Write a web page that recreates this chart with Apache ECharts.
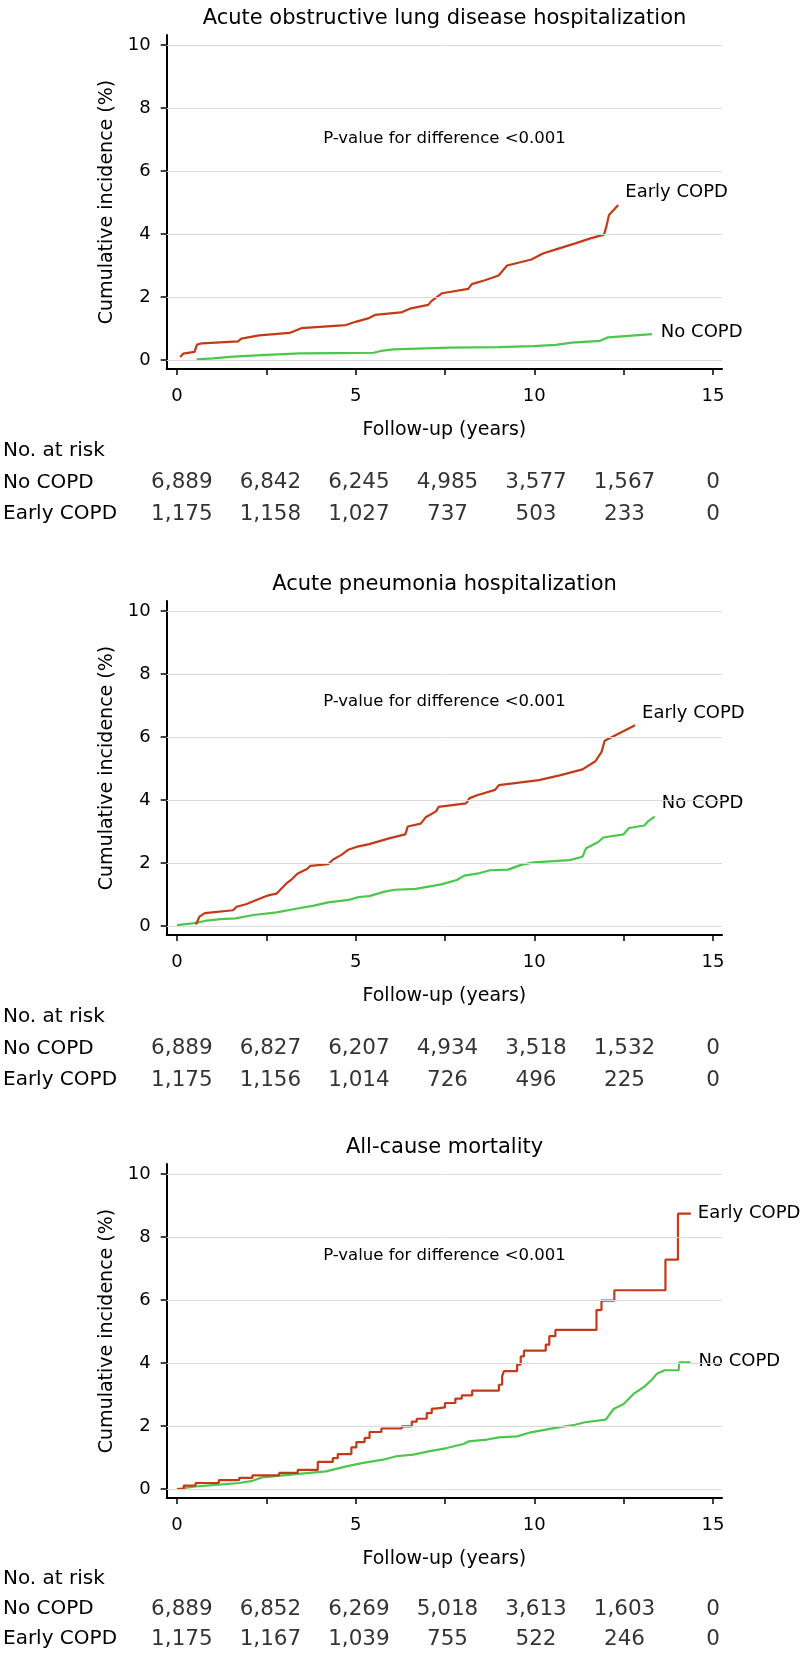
<!DOCTYPE html>
<html>
<head>
<meta charset="utf-8">
<script src="https://cdn.jsdelivr.net/npm/echarts@6/dist/echarts.min.js"></script>
<style>
html,body{margin:0;padding:0;background:#fff;}
#chart{width:805px;height:1654px;}
</style>
</head>
<body>
<div id="chart"></div>
<script>
// ---------- DATA ----------
const panelTitles = ['Acute obstructive lung disease hospitalization', 'Acute pneumonia hospitalization', 'All-cause mortality'];
const pValueText = 'P-value for difference <0.001';
const groupNames = ['No COPD', 'Early COPD'];
const xLabelValues = [0, 5, 10, 15];
const xTickValues = [0, 2.5, 5, 7.5, 10, 12.5, 15];
const yTickValues = [0, 2, 4, 6, 8, 10];
const riskTimes = [0, 2.5, 5, 7.5, 10, 12.5, 15];

// Panel 1: acute obstructive lung disease hospitalization
const p1Early = [[0.09,0.09],[0.17,0.2],[0.49,0.26],[0.56,0.49],[0.7,0.53],[1.71,0.59],[1.8,0.68],[2.3,0.78],[3.15,0.86],[3.48,1.01],[4.73,1.11],[5.02,1.22],[5.35,1.32],[5.54,1.43],[6.27,1.51],[6.55,1.64],[7.03,1.75],[7.12,1.87],[7.42,2.12],[8.15,2.26],[8.25,2.41],[8.62,2.53],[9.0,2.68],[9.24,3.0],[9.92,3.19],[10.24,3.38],[10.63,3.52],[11.17,3.71],[11.57,3.86],[11.95,3.98],[12.02,4.25],[12.09,4.6],[12.35,4.92]];
const p1NoCopd = [[0.55,0.02],[1.0,0.05],[1.58,0.11],[2.51,0.16],[3.44,0.21],[4.5,0.22],[5.5,0.23],[5.77,0.3],[6.05,0.34],[7.64,0.39],[9.0,0.41],[9.97,0.44],[10.6,0.48],[11.05,0.55],[11.84,0.61],[12.07,0.72],[13.29,0.82]];
const p1RiskNo = [6889, 6842, 6245, 4985, 3577, 1567, 0];
const p1RiskEarly = [1175, 1158, 1027, 737, 503, 233, 0];

// Panel 2: acute pneumonia hospitalization
const p2Early = [[0.53,0.05],[0.63,0.3],[0.78,0.41],[1.57,0.5],[1.67,0.61],[1.93,0.69],[2.43,0.92],[2.58,0.98],[2.79,1.03],[3.08,1.37],[3.22,1.49],[3.37,1.66],[3.65,1.82],[3.73,1.91],[4.23,1.96],[4.37,2.11],[4.59,2.25],[4.81,2.43],[5.02,2.51],[5.38,2.6],[5.96,2.79],[6.39,2.91],[6.46,3.16],[6.82,3.25],[6.96,3.45],[7.25,3.64],[7.32,3.78],[8.09,3.89],[8.19,4.06],[8.4,4.15],[8.9,4.32],[9.01,4.47],[10.13,4.63],[10.71,4.78],[11.35,4.97],[11.71,5.23],[11.88,5.52],[11.97,5.88],[12.82,6.37]];
const p2NoCopd = [[0,0.03],[0.49,0.09],[0.78,0.16],[1.21,0.22],[1.64,0.24],[2.14,0.35],[2.79,0.43],[3.29,0.54],[3.8,0.64],[4.23,0.75],[4.81,0.83],[5.09,0.92],[5.38,0.95],[5.81,1.09],[6.1,1.15],[6.68,1.18],[7.4,1.32],[7.83,1.46],[8.04,1.6],[8.4,1.66],[8.76,1.77],[9.27,1.79],[9.63,1.94],[9.99,2.02],[10.99,2.09],[11.35,2.2],[11.45,2.47],[11.78,2.66],[11.93,2.81],[12.5,2.91],[12.65,3.11],[13.08,3.19],[13.19,3.33],[13.37,3.47]];
const p2RiskNo = [6889, 6827, 6207, 4934, 3518, 1532, 0];
const p2RiskEarly = [1175, 1156, 1014, 726, 496, 225, 0];

// Panel 3: all-cause mortality
const p3Early = [[0,0],[0.19,0.11],[0.52,0.19],[1.17,0.28],[1.74,0.35],[2.11,0.43],[2.86,0.51],[3.38,0.61],[3.94,0.86],[4.36,0.98],[4.5,1.11],[4.88,1.32],[5.02,1.49],[5.25,1.62],[5.39,1.81],[5.72,1.92],[6.29,1.99],[6.57,2.14],[6.71,2.23],[6.99,2.41],[7.13,2.55],[7.22,2.59],[7.5,2.73],[7.79,2.87],[7.97,2.97],[8.26,3.12],[9.01,3.31],[9.1,3.58],[9.15,3.74],[9.52,3.95],[9.62,4.21],[9.71,4.39],[10.32,4.58],[10.42,4.85],[10.59,5.05],[11.74,5.68],[11.88,5.98],[12.24,6.31],[13.67,7.28],[14.02,8.74],[14.38,8.74]];
const p3NoCopd = [[0,0],[0.52,0.08],[1.17,0.14],[1.74,0.19],[2.11,0.26],[2.39,0.37],[2.95,0.43],[3.71,0.51],[4.17,0.56],[4.74,0.72],[5.21,0.83],[5.77,0.93],[6.14,1.04],[6.61,1.09],[7.08,1.2],[7.55,1.3],[8.02,1.43],[8.16,1.51],[8.68,1.57],[9.01,1.64],[9.52,1.67],[9.9,1.8],[10.56,1.93],[11.14,2.04],[11.42,2.12],[12.0,2.2],[12.22,2.54],[12.5,2.7],[12.79,3.03],[13.08,3.25],[13.29,3.47],[13.44,3.67],[13.65,3.77],[14.04,3.77],[14.06,4.02],[14.37,4.02]];
const p3RiskNo = [6889, 6852, 6269, 5018, 3613, 1603, 0];
const p3RiskEarly = [1175, 1167, 1039, 755, 522, 246, 0];

// ---------- STYLE / LAYOUT ----------
const FONT = 'DejaVu Sans';
const RED = '#c43a18';
const GREEN = '#4cc64c';
const X_MIN = -0.288, X_MAX = 15.253;
const Y_MIN = -0.2857, Y_MAX = 10.317;
const GRID_LEFT = 166.7, GRID_W = 555.3;
const y10px = [45, 611, 1174];           // pixel row of the y=10 gridline in each panel
const panels = [
  {early: p1Early, no: p1NoCopd, riskNo: p1RiskNo, riskEarly: p1RiskEarly, earlyStep: false,
   earlyOff: [7, -13], noOff: [9, -2], pGap: 94},
  {early: p2Early, no: p2NoCopd, riskNo: p2RiskNo, riskEarly: p2RiskEarly, earlyStep: false,
   earlyOff: [7, -12], noOff: [7, -13], pGap: 91},
  {early: p3Early, no: p3NoCopd, riskNo: p3RiskNo, riskEarly: p3RiskEarly, earlyStep: true,
   earlyOff: [7, 0], noOff: [8, -1], pGap: 82}
];

const grid = [], xAxis = [], yAxis = [], series = [], title = [];
panels.forEach((p, i) => {
  const top10 = y10px[i];
  const y0 = top10 + 315;
  grid.push({left: GRID_LEFT, width: GRID_W, top: top10 - 10, height: 334});
  grid.push({left: GRID_LEFT, width: GRID_W, top: y0 + 75, height: 95});
  const gMain = 2 * i, gRisk = 2 * i + 1;

  xAxis.push({
    gridIndex: gMain, type: 'value', min: X_MIN, max: X_MAX,
    axisLine: {show: true, onZero: false, lineStyle: {color: '#000', width: 2}},
    axisTick: {show: true, length: 6, customValues: xTickValues, lineStyle: {color: '#000', width: 1.5}},
    axisLabel: {customValues: xLabelValues, fontSize: 18, color: '#000', fontFamily: FONT, margin: 18},
    splitLine: {show: false},
    name: 'Follow-up (years)', nameLocation: 'middle', nameGap: 52,
    nameTextStyle: {fontSize: 19, color: '#000', fontFamily: FONT}
  });
  xAxis.push({gridIndex: gRisk, type: 'value', min: X_MIN, max: X_MAX, show: false});

  yAxis.push({
    gridIndex: gMain, type: 'value', min: Y_MIN, max: Y_MAX,
    axisLine: {show: true, onZero: false, lineStyle: {color: '#000', width: 2}},
    axisTick: {show: true, length: 6, customValues: yTickValues, lineStyle: {color: '#000', width: 1.5}},
    axisLabel: {customValues: yTickValues, fontSize: 18, color: '#000', fontFamily: FONT, margin: 16},
    splitLine: {show: false},
    name: 'Cumulative incidence (%)', nameLocation: 'middle', nameGap: 47, nameRotate: 90,
    nameTextStyle: {fontSize: 19, color: '#000', fontFamily: FONT}
  });
  yAxis.push({
    gridIndex: gRisk, type: 'category', inverse: true,
    data: ['No. at risk', groupNames[0], groupNames[1]],
    axisLine: {show: false}, axisTick: {show: false}, splitLine: {show: false},
    axisLabel: {align: 'left', margin: GRID_LEFT + 2, fontSize: 20, color: '#000', fontFamily: FONT}
  });

  // gridlines
  series.push({
    type: 'line', xAxisIndex: gMain, yAxisIndex: gMain, data: [], z: 1, silent: true,
    markLine: {silent: true, symbol: 'none', label: {show: false}, animation: false,
      lineStyle: {color: '#dadada', width: 1, type: 'solid'},
      data: yTickValues.map(v => ({yAxis: v}))}
  });
  // curves
  series.push({
    name: groupNames[0], type: 'line', xAxisIndex: gMain, yAxisIndex: gMain, data: p.no,
    showSymbol: false, symbol: 'none', z: 3,
    lineStyle: {color: GREEN, width: 2.2},
    endLabel: {show: true, formatter: groupNames[0], distance: 0, offset: p.noOff,
      fontSize: 18, color: '#000', fontFamily: FONT}
  });
  series.push({
    name: groupNames[1], type: 'line', xAxisIndex: gMain, yAxisIndex: gMain, data: p.early,
    showSymbol: false, symbol: 'none', z: 4, step: p.earlyStep ? 'end' : false,
    lineStyle: {color: RED, width: 2.2},
    endLabel: {show: true, formatter: groupNames[1], distance: 0, offset: p.earlyOff,
      fontSize: 18, color: '#000', fontFamily: FONT}
  });
  // risk table numbers
  const riskData = [];
  riskTimes.forEach((t, k) => {
    riskData.push([t, groupNames[0], p.riskNo[k]]);
    riskData.push([t, groupNames[1], p.riskEarly[k]]);
  });
  series.push({
    type: 'scatter', xAxisIndex: gRisk, yAxisIndex: gRisk, data: riskData,
    symbolSize: 1, itemStyle: {color: 'rgba(0,0,0,0)'}, silent: true,
    label: {show: true, position: 'inside', fontSize: 21.5, color: '#000', fontFamily: FONT,
      formatter: prm => prm.value[2].toLocaleString('en-US')}
  });

  title.push({text: panelTitles[i], left: 444.5, top: top10 - 26, textAlign: 'center',
    textVerticalAlign: 'middle', padding: 0,
    textStyle: {fontSize: 21, fontWeight: 'normal', color: '#000', fontFamily: FONT}});
  title.push({text: pValueText, left: 444.5, top: top10 + p.pGap, textAlign: 'center',
    textVerticalAlign: 'middle', padding: 0,
    textStyle: {fontSize: 16.5, fontWeight: 'normal', color: '#000', fontFamily: FONT}});
});

const chart = echarts.init(document.getElementById('chart'), null, {renderer: 'canvas'});
chart.setOption({
  animation: false,
  backgroundColor: '#fff',
  textStyle: {fontFamily: FONT},
  title, grid, xAxis, yAxis, series
});
</script>
</body>
</html>
